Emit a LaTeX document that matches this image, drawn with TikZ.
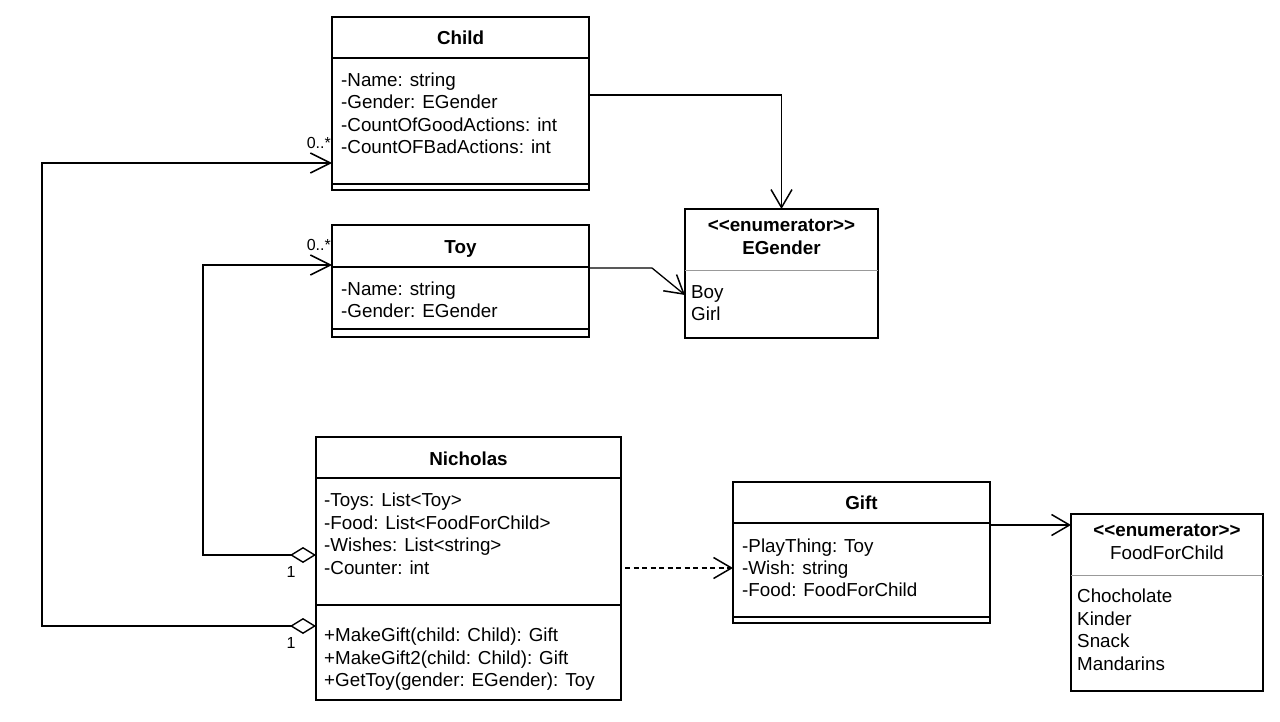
\documentclass[tikz,border=0pt]{standalone}
\usepackage{fontspec}
\setmainfont{Liberation Sans}
\usetikzlibrary{arrows.meta,calc}
\begin{document}
\begin{tikzpicture}[x=1pt,y=-1pt,
  box/.style={draw, line width=1.3pt, inner sep=0pt, outer sep=0pt, fill=white},
  sep/.style={line width=1.3pt},
  gsep/.style={line width=1pt, draw=black!40},
  txt/.style={anchor=base west, inner sep=0pt, font=\fontsize{18.8}{22}\selectfont},
  ttl/.style={anchor=base, inner sep=0pt, font=\fontsize{18.8}{22}\selectfont\bfseries},
  ctr/.style={anchor=base, inner sep=0pt, font=\fontsize{18.8}{22}\selectfont},
  mult/.style={inner sep=0pt, font=\fontsize{16}{18}\selectfont},
  conn/.style={line width=1.3pt},
  assoc/.style={conn, -{Straight Barb[length=18pt,width=21pt,line width=1.5pt]}},
  aggr/.style={conn, {Diamond[open,length=26pt,width=16pt,line width=1.4pt]}-{Straight Barb[length=20pt,width=20pt,line width=1.5pt]}},
  dep/.style={assoc, dash pattern=on 5pt off 3.5pt}
]
\useasboundingbox (0,0) rectangle (1280,722);
\fill[white] (0,0) rectangle (1280,722);

% ---------- Child ----------
\node[box, minimum width=257pt, minimum height=173pt] (child) at (460.5,103.5) {};
\draw[sep] (332,58) -- (589,58);
\draw[sep] (332,184) -- (589,184);
\node[ttl] (childT) at (460.5,44.5) {Child};
\node[txt] (c1) at (341,86.5) {-Name: string};
\node[txt] (c2) at (341,109) {-Gender: EGender};
\node[txt] (c3) at (341,131.5) {-CountOfGoodActions: int};
\node[txt] (c4) at (341,154) {-CountOFBadActions: int};

% ---------- Toy ----------
\node[box, minimum width=257pt, minimum height=112pt] (toy) at (460.5,281) {};
\draw[sep] (332,267) -- (589,267);
\draw[sep] (332,329) -- (589,329);
\node[ttl] (toyT) at (460.5,253.5) {Toy};
\node[txt] (t1) at (341,295.5) {-Name: string};
\node[txt] (t2) at (341,317.5) {-Gender: EGender};

% ---------- EGender ----------
\node[box, minimum width=193pt, minimum height=129pt] (eg) at (781.5,273.5) {};
\draw[gsep] (685,270) -- (878,270);
\node[ttl] (egS) at (781.5,231.5) {{<}{<}enumerator{>}{>}};
\node[ttl] (egT) at (781.5,254.5) {EGender};
\node[txt] (e1) at (691,298.5) {Boy};
\node[txt] (e2) at (691,320.5) {Girl};

% ---------- Nicholas ----------
\node[box, minimum width=305pt, minimum height=263pt] (nic) at (468.5,568.5) {};
\draw[sep] (316,478) -- (621,478);
\draw[sep] (316,605) -- (621,605);
\node[ttl] (nicT) at (468.5,465.5) {Nicholas};
\node[txt] (n1) at (324,506.5) {-Toys: List{<}Toy{>}};
\node[txt] (n2) at (324,529) {-Food: List{<}FoodForChild{>}};
\node[txt] (n3) at (324,551.5) {-Wishes: List{<}string{>}};
\node[txt] (n4) at (324,574) {-Counter: int};
\node[txt] (m1) at (324,641.5) {+MakeGift(child: Child): Gift};
\node[txt] (m2) at (324,664) {+MakeGift2(child: Child): Gift};
\node[txt] (m3) at (324,686.5) {+GetToy(gender: EGender): Toy};

% ---------- Gift ----------
\node[box, minimum width=257pt, minimum height=141pt] (gift) at (861.5,552.5) {};
\draw[sep] (733,523) -- (990,523);
\draw[sep] (733,617) -- (990,617);
\node[ttl] (giftT) at (861.5,509.5) {Gift};
\node[txt] (g1) at (742,552.5) {-PlayThing: Toy};
\node[txt] (g2) at (742,574.5) {-Wish: string};
\node[txt] (g3) at (742,596.5) {-Food: FoodForChild};

% ---------- FoodForChild ----------
\node[box, minimum width=192pt, minimum height=177pt] (food) at (1167,602.5) {};
\draw[gsep] (1071,575) -- (1263,575);
\node[ttl] (foodS) at (1167,536.5) {{<}{<}enumerator{>}{>}};
\node[ctr] (foodT) at (1167,559.5) {FoodForChild};
\node[txt] (f1) at (1077,602.5) {Chocholate};
\node[txt] (f2) at (1077,625) {Kinder};
\node[txt] (f3) at (1077,647.5) {Snack};
\node[txt] (f4) at (1077,670) {Mandarins};

% ---------- Connectors ----------
\draw[assoc] (child.east |- 0,95) -| (eg.north);
\coordinate (tbend) at (652,268);
\draw[assoc] (toy.east |- tbend) -- (tbend) -- (eg.west |- 0,295);
\coordinate (ta) at (203,555);
\draw[aggr] (nic.west |- ta) -- (ta) |- (toy.west |- 0,265);
\coordinate (ca) at (42,626);
\draw[aggr] (nic.west |- ca) -- (ca) |- (child.west |- 0,163);
\coordinate (ds) at (625,568);
\draw[dep] (ds) -- (gift.west |- ds);
\draw[assoc] (gift.east |- 0,525) -- (food.west |- 0,525);

% ---------- Multiplicities ----------
\node[mult, anchor=base east] (m0c) at (331,149) {0..*};
\node[mult, anchor=base east] (m0t) at (331,251) {0..*};
\node[mult, anchor=base] (m1t) at (291,577.5) {1};
\node[mult, anchor=base] (m1c) at (291,648) {1};
\end{tikzpicture}
\end{document}
